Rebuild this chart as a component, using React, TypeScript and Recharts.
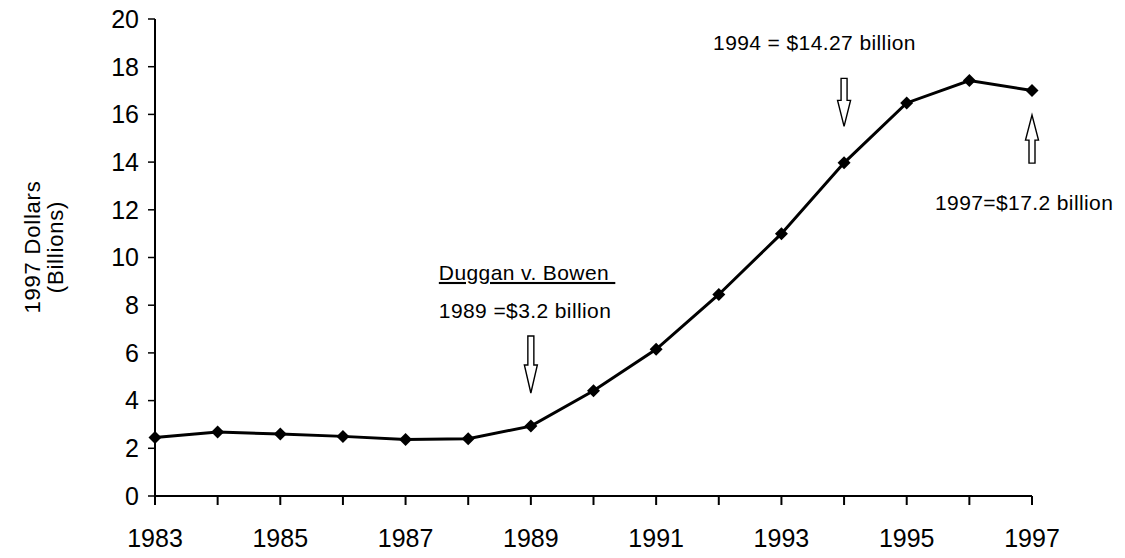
import React from "react";
import { LineChart, Line, XAxis, YAxis, ReferenceDot } from "recharts";

// Spending in billions of 1997 dollars, by year
const YEARS = [1983, 1984, 1985, 1986, 1987, 1988, 1989, 1990, 1991, 1992, 1993, 1994, 1995, 1996, 1997];
const SPENDING = [2.45, 2.68, 2.6, 2.5, 2.37, 2.4, 2.93, 4.41, 6.15, 8.45, 11.0, 13.97, 16.48, 17.42, 17.0];
const Y_TICKS = [0, 2, 4, 6, 8, 10, 12, 14, 16, 18, 20];
const Y_TITLE = ["1997 Dollars", "(Billions)"];

const NOTE_1989 = ["Duggan v. Bowen", "1989 =$3.2 billion"];
const NOTE_1994 = "1994 = $14.27 billion";
const NOTE_1997 = "1997=$17.2 billion";

const FONT = "'Liberation Sans', Arial, sans-serif";

const data = YEARS.map((year, i) => ({ year, value: SPENDING[i] }));

function Diamond(props: any) {
  const { cx, cy } = props;
  if (cx == null || cy == null) return null;
  const r = 6.5;
  return <polygon points={`${cx},${cy - r} ${cx + r},${cy} ${cx},${cy + r} ${cx - r},${cy}`} fill="#000" />;
}

// hollow block arrow, tip at (cx, cy)
function arrowPoints(cx: number, cy: number, len: number, head: number, up: boolean) {
  const s = up ? -1 : 1;
  const sw = 3;
  const hw = 6.5;
  return [
    [cx - sw, cy - s * len],
    [cx + sw, cy - s * len],
    [cx + sw, cy - s * head],
    [cx + hw, cy - s * head],
    [cx, cy],
    [cx - hw, cy - s * head],
    [cx - sw, cy - s * head],
  ].map(p => p.join(",")).join(" ");
}

const textStyle = { fontFamily: FONT, fontSize: 21, letterSpacing: 0.4, fill: "#000" };

function Note1989(props: any) {
  const { cx, cy } = props;
  return (
    <g>
      <polygon points={arrowPoints(cx, cy, 57, 28, false)} fill="#fff" stroke="#000" strokeWidth={1.4} />
      <text x={cx - 92} y={cy - 113} style={{ ...textStyle, textDecoration: "underline" }}>{NOTE_1989[0] + "\u00a0"}</text>
      <text x={cx - 92} y={cy - 75} style={textStyle}>{NOTE_1989[1]}</text>
    </g>
  );
}

function Note1994(props: any) {
  const { cx, cy } = props;
  return (
    <g>
      <polygon points={arrowPoints(cx, cy, 48, 26, false)} fill="#fff" stroke="#000" strokeWidth={1.4} />
      <text x={cx - 131} y={cy - 76} style={textStyle}>{NOTE_1994}</text>
    </g>
  );
}

function Note1997(props: any) {
  const { cx, cy } = props;
  return (
    <g>
      <polygon points={arrowPoints(cx, cy, 48, 25, true)} fill="#fff" stroke="#000" strokeWidth={1.4} />
      <text x={cx - 97} y={cy + 95} style={textStyle}>{NOTE_1997}</text>
    </g>
  );
}

function YTitle() {
  const cx = 44;
  const cy = 247;
  return (
    <text
      transform={`rotate(-90, ${cx}, ${cy})`}
      x={cx}
      y={cy}
      textAnchor="middle"
      style={{ fontFamily: FONT, fontSize: 22, letterSpacing: 0.8, fill: "#000" }}
    >
      <tspan x={cx} dy={-4}>{Y_TITLE[0]}</tspan>
      <tspan x={cx} dy={23}>{Y_TITLE[1]}</tspan>
    </text>
  );
}

export default function App() {
  const tickStyle = { fill: "#000", fontSize: 25, fontFamily: FONT };
  return (
    <div style={{ position: "absolute", left: 0, top: 0, width: 1125, height: 558, background: "#fff" }}>
      <LineChart width={1125} height={558} data={data} margin={{ top: 19, right: 93, bottom: 12, left: 60 }}>
        <XAxis
          dataKey="year"
          type="number"
          domain={[1983, 1997]}
          ticks={YEARS}
          interval={0}
          tickFormatter={(v: number) => (v % 2 === 1 ? String(v) : "")}
          height={50}
          tickSize={9}
          tickMargin={24}
          tick={tickStyle}
          axisLine={{ stroke: "#000", strokeWidth: 2 }}
          tickLine={{ stroke: "#000", strokeWidth: 2 }}
        />
        <YAxis
          domain={[0, 20]}
          ticks={Y_TICKS}
          interval={0}
          width={95}
          tickSize={7}
          tickMargin={9}
          tick={tickStyle}
          axisLine={{ stroke: "#000", strokeWidth: 2 }}
          tickLine={{ stroke: "#000", strokeWidth: 1.5 }}
          label={<YTitle />}
        />
        <Line
          type="linear"
          dataKey="value"
          stroke="#000"
          strokeWidth={3}
          dot={<Diamond />}
          activeDot={false}
          isAnimationActive={false}
        />
        <ReferenceDot x={1989} y={4.32} shape={<Note1989 />} />
        <ReferenceDot x={1994} y={15.5} shape={<Note1994 />} />
        <ReferenceDot x={1997} y={15.97} shape={<Note1997 />} />
      </LineChart>
    </div>
  );
}
